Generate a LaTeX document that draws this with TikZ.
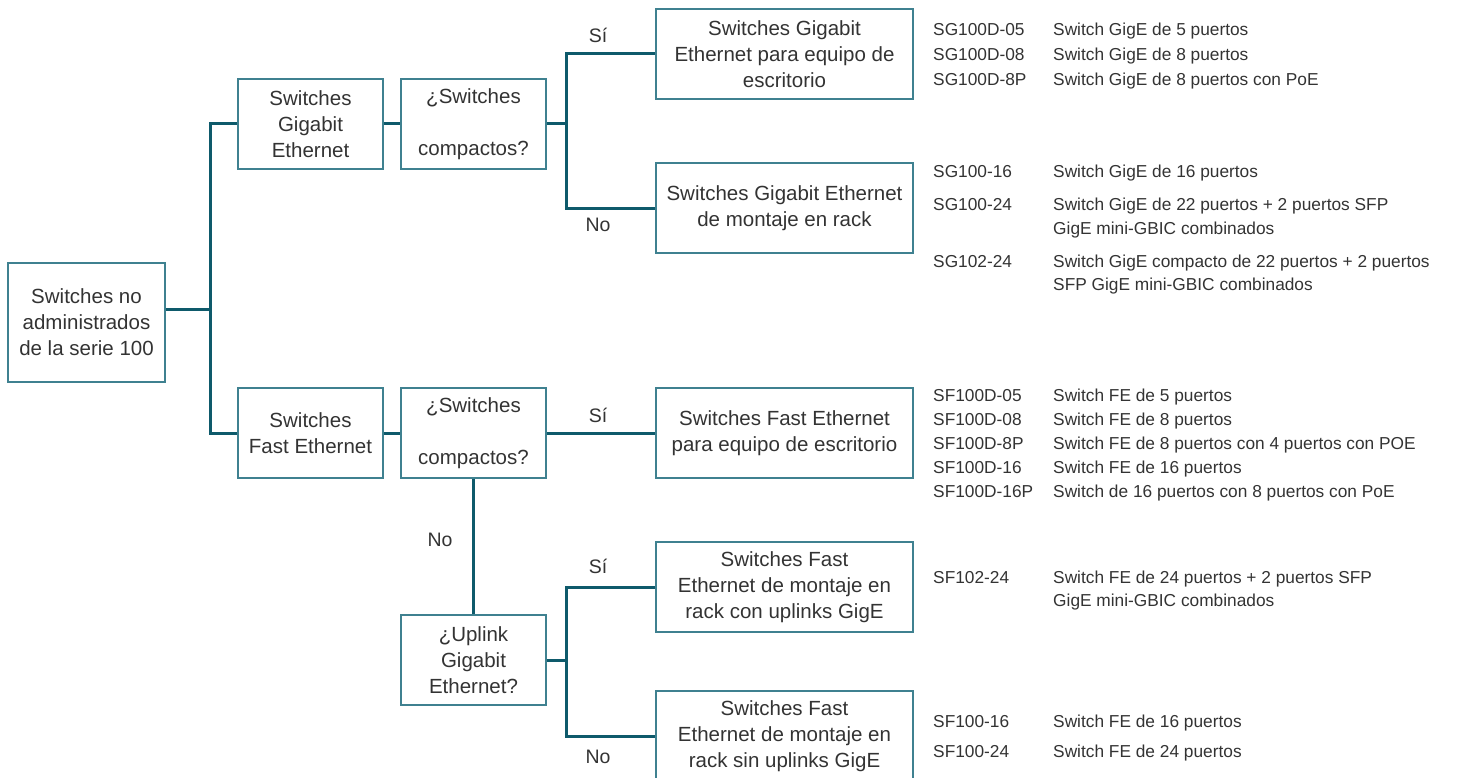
\documentclass[tikz,border=0pt]{standalone}
\usepackage{fontspec}
\setmainfont{Liberation Sans}
\definecolor{linec}{HTML}{0E5A6B}
\definecolor{boxc}{HTML}{3F8190}
\definecolor{txt}{HTML}{333333}
\tikzset{
  box/.style={draw=boxc, line width=1.5pt, align=center, inner sep=0pt, text=txt,
    font=\fontsize{20.5}{26}\selectfont, minimum width=145pt, minimum height=90pt},
  widebox/.style={box, minimum width=257pt},
  conn/.style={draw=linec, line width=3pt},
  lab/.style={text=txt, font=\fontsize{19.5}{22}\selectfont, inner sep=0pt},
  lst/.style={text=txt, font=\fontsize{17.3}{20}\selectfont, inner sep=0pt, anchor=base west},
}
\begin{document}
\begin{tikzpicture}[x=1pt,y=-1pt]
\useasboundingbox (0,0) rectangle (1458,778);
% boxes
\node[box, minimum width=157pt, minimum height=119pt] (root) at (86.5,322.5) {Switches no\\administrados\\de la serie 100};
\node[box] (gig) at (310.5,124) {Switches\\Gigabit\\Ethernet};
\node[box] (gq) at (473.5,124) {¿Switches\\[26pt]compactos?};
\node[box] (fe) at (310.5,433) {Switches\\Fast Ethernet};
\node[box] (fq) at (473.5,433) {¿Switches\\[26pt]compactos?};
\node[box] (up) at (473.5,660) {¿Uplink\\Gigabit\\Ethernet?};
\node[widebox] (gd) at (784.5,54) {Switches Gigabit\\Ethernet para equipo de\\escritorio};
\node[widebox] (gr) at (784.5,208) {Switches Gigabit Ethernet\\de montaje en rack};
\node[widebox] (fd) at (784.5,433) {Switches Fast Ethernet\\para equipo de escritorio};
\node[widebox] (fu) at (784.5,587) {Switches Fast\\Ethernet de montaje en\\rack con uplinks GigE};
\node[widebox] (fs) at (784.5,736) {Switches Fast\\Ethernet de montaje en\\rack sin uplinks GigE};
% bus coordinates
\coordinate (busA) at (210,309);
\coordinate (busB) at (566,124);
\coordinate (busC) at (566,660);
% connectors
\draw[conn] (root.east |- busA) -- (busA);
\draw[conn] (gig.west) -| (busA);
\draw[conn] (fe.west) -| (busA);
\draw[conn] (gig) -- (gq);
\draw[conn] (fe) -- (fq);
\draw[conn] (gq.east) -- (busB);
\draw[conn] (busB) |- (gd.west);
\draw[conn] (busB) |- (gr.west);
\draw[conn] (fq) -- (fd);
\draw[conn] (fq) -- (up);
\draw[conn] (up.east) -- (busC);
\draw[conn] (busC) |- (fu.west);
\draw[conn] (busC) |- (fs.west);
% labels
\node[lab] (l1) at (598,35) {Sí};
\node[lab] (l2) at (598,225) {No};
\node[lab] (l3) at (598,415) {Sí};
\node[lab] (l4) at (440,540) {No};
\node[lab] (l5) at (598,566) {Sí};
\node[lab] (l6) at (598,757) {No};
% lists
\node[lst] (a1) at (933,36) {SG100D-05};  \node[lst] (b1) at (1053,36) {Switch GigE de 5 puertos};
\node[lst] (a2) at (933,61) {SG100D-08};  \node[lst] (b2) at (1053,61) {Switch GigE de 8 puertos};
\node[lst] (a3) at (933,86) {SG100D-8P};  \node[lst] (b3) at (1053,86) {Switch GigE de 8 puertos con PoE};
\node[lst] (a4) at (933,178) {SG100-16};  \node[lst] (b4) at (1053,178) {Switch GigE de 16 puertos};
\node[lst] (a5) at (933,211) {SG100-24};  \node[lst] (b5) at (1053,211) {Switch GigE de 22 puertos + 2 puertos SFP};
\node[lst] (b5b) at (1053,234) {GigE mini-GBIC combinados};
\node[lst] (a6) at (933,267) {SG102-24};  \node[lst] (b6) at (1053,267) {Switch GigE compacto de 22 puertos + 2 puertos};
\node[lst] (b6b) at (1053,290) {SFP GigE mini-GBIC combinados};
\node[lst] (a7) at (933,401) {SF100D-05};  \node[lst] (b7) at (1053,401) {Switch FE de 5 puertos};
\node[lst] (a8) at (933,425) {SF100D-08};  \node[lst] (b8) at (1053,425) {Switch FE de 8 puertos};
\node[lst] (a9) at (933,449) {SF100D-8P};  \node[lst] (b9) at (1053,449) {Switch FE de 8 puertos con 4 puertos con POE};
\node[lst] (a10) at (933,473) {SF100D-16}; \node[lst] (b10) at (1053,473) {Switch FE de 16 puertos};
\node[lst] (a11) at (933,497) {SF100D-16P}; \node[lst] (b11) at (1053,497) {Switch de 16 puertos con 8 puertos con PoE};
\node[lst] (a12) at (933,583) {SF102-24};  \node[lst] (b12) at (1053,583) {Switch FE de 24 puertos + 2 puertos SFP};
\node[lst] (b12b) at (1053,606) {GigE mini-GBIC combinados};
\node[lst] (a13) at (933,727) {SF100-16};  \node[lst] (b13) at (1053,727) {Switch FE de 16 puertos};
\node[lst] (a14) at (933,757) {SF100-24};  \node[lst] (b14) at (1053,757) {Switch FE de 24 puertos};
\end{tikzpicture}
\end{document}
